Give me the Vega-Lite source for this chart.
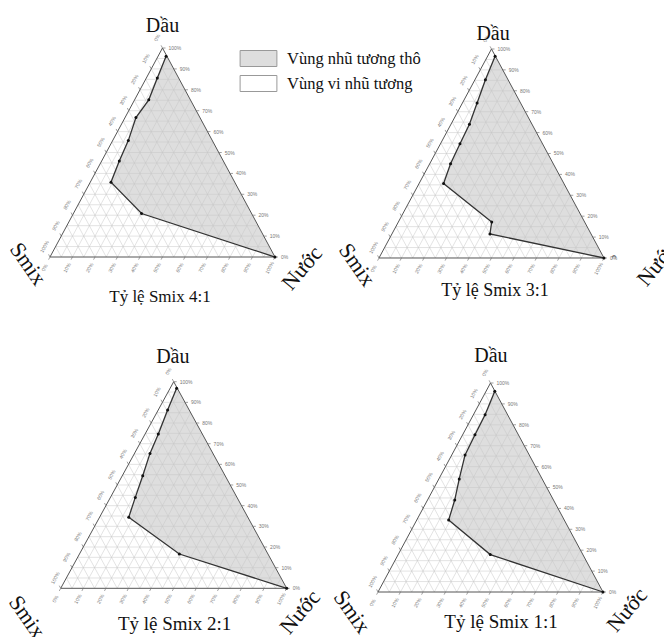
{
"$schema": "https://vega.github.io/schema/vega-lite/v6.json",
"padding": 0,
"background": "white",
"bounds": "flush",
"spacing": 0,
"columns": 2,
"config": {"view": {"stroke": null}, "axis": {"disable": true}, "concat": {"spacing": 0}},
"resolve": {"scale": {"x": "independent", "y": "independent"}},
"datasets": {
"p1": [
{"ngang": 51.6, "dau": 96.0, "bien": 52.0},
{"ngang": 47.7, "dau": 85.6, "bien": 57.2},
{"ngang": 43.9, "dau": 75.2, "bien": 62.4},
{"ngang": 38.2, "dau": 66.7, "bien": 66.7},
{"ngang": 34.8, "dau": 55.7, "bien": 72.2},
{"ngang": 30.8, "dau": 45.9, "bien": 77.1},
{"ngang": 27.1, "dau": 35.8, "bien": 82.1},
{"ngang": 40.7, "dau": 20.8, "bien": 89.6},
{"ngang": 100, "dau": 0, "bien": 100}
],
"p2": [
{"ngang": 51.6, "dau": 96.5, "bien": 51.8},
{"ngang": 47.3, "dau": 85.3, "bien": 57.4},
{"ngang": 43.6, "dau": 74.2, "bien": 62.9},
{"ngang": 40.2, "dau": 64.0, "bien": 68.0},
{"ngang": 36.0, "dau": 54.7, "bien": 72.7},
{"ngang": 31.8, "dau": 45.1, "bien": 77.5},
{"ngang": 28.7, "dau": 35.6, "bien": 82.2},
{"ngang": 50.1, "dau": 17.2, "bien": 91.4},
{"ngang": 49.3, "dau": 11.5, "bien": 94.3},
{"ngang": 100, "dau": 0, "bien": 100}
],
"p3": [
{"ngang": 51.3, "dau": 96.8, "bien": 51.6},
{"ngang": 47.3, "dau": 86.3, "bien": 56.9},
{"ngang": 43.2, "dau": 74.7, "bien": 62.7},
{"ngang": 39.5, "dau": 65.3, "bien": 67.4},
{"ngang": 36.3, "dau": 54.5, "bien": 72.8},
{"ngang": 33.0, "dau": 44.0, "bien": 78.0},
{"ngang": 30.1, "dau": 34.4, "bien": 82.8},
{"ngang": 52.5, "dau": 16.6, "bien": 91.7},
{"ngang": 100, "dau": 0, "bien": 100}
],
"p4": [
{"ngang": 51.9, "dau": 96.0, "bien": 52.0},
{"ngang": 47.6, "dau": 84.8, "bien": 57.6},
{"ngang": 43.1, "dau": 75.2, "bien": 62.4},
{"ngang": 38.7, "dau": 65.6, "bien": 67.2},
{"ngang": 36.1, "dau": 54.1, "bien": 73.0},
{"ngang": 34.1, "dau": 44.0, "bien": 78.0},
{"ngang": 31.4, "dau": 34.4, "bien": 82.8},
{"ngang": 49.9, "dau": 17.9, "bien": 91.1},
{"ngang": 100, "dau": 0, "bien": 100}
],
"vien": [
{"x": 0, "y": 0, "x2": 100, "y2": 0},
{"x": 100, "y": 0, "x2": 50, "y2": 100},
{"x": 50, "y": 100, "x2": 0, "y2": 0}
],
"luoi": [
{"x": 2.5, "y": 5, "x2": 97.5, "y2": 5},
{"x": 5, "y": 10, "x2": 95, "y2": 10},
{"x": 7.5, "y": 15, "x2": 92.5, "y2": 15},
{"x": 10, "y": 20, "x2": 90, "y2": 20},
{"x": 12.5, "y": 25, "x2": 87.5, "y2": 25},
{"x": 15, "y": 30, "x2": 85, "y2": 30},
{"x": 17.5, "y": 35, "x2": 82.5, "y2": 35},
{"x": 20, "y": 40, "x2": 80, "y2": 40},
{"x": 22.5, "y": 45, "x2": 77.5, "y2": 45},
{"x": 25, "y": 50, "x2": 75, "y2": 50},
{"x": 27.5, "y": 55, "x2": 72.5, "y2": 55},
{"x": 30, "y": 60, "x2": 70, "y2": 60},
{"x": 32.5, "y": 65, "x2": 67.5, "y2": 65},
{"x": 35, "y": 70, "x2": 65, "y2": 70},
{"x": 37.5, "y": 75, "x2": 62.5, "y2": 75},
{"x": 40, "y": 80, "x2": 60, "y2": 80},
{"x": 42.5, "y": 85, "x2": 57.5, "y2": 85},
{"x": 45, "y": 90, "x2": 55, "y2": 90},
{"x": 47.5, "y": 95, "x2": 52.5, "y2": 95},
{"x": 5, "y": 0, "x2": 52.5, "y2": 95},
{"x": 10, "y": 0, "x2": 55, "y2": 90},
{"x": 15, "y": 0, "x2": 57.5, "y2": 85},
{"x": 20, "y": 0, "x2": 60, "y2": 80},
{"x": 25, "y": 0, "x2": 62.5, "y2": 75},
{"x": 30, "y": 0, "x2": 65, "y2": 70},
{"x": 35, "y": 0, "x2": 67.5, "y2": 65},
{"x": 40, "y": 0, "x2": 70, "y2": 60},
{"x": 45, "y": 0, "x2": 72.5, "y2": 55},
{"x": 50, "y": 0, "x2": 75, "y2": 50},
{"x": 55, "y": 0, "x2": 77.5, "y2": 45},
{"x": 60, "y": 0, "x2": 80, "y2": 40},
{"x": 65, "y": 0, "x2": 82.5, "y2": 35},
{"x": 70, "y": 0, "x2": 85, "y2": 30},
{"x": 75, "y": 0, "x2": 87.5, "y2": 25},
{"x": 80, "y": 0, "x2": 90, "y2": 20},
{"x": 85, "y": 0, "x2": 92.5, "y2": 15},
{"x": 90, "y": 0, "x2": 95, "y2": 10},
{"x": 95, "y": 0, "x2": 97.5, "y2": 5},
{"x": 95, "y": 0, "x2": 47.5, "y2": 95},
{"x": 90, "y": 0, "x2": 45, "y2": 90},
{"x": 85, "y": 0, "x2": 42.5, "y2": 85},
{"x": 80, "y": 0, "x2": 40, "y2": 80},
{"x": 75, "y": 0, "x2": 37.5, "y2": 75},
{"x": 70, "y": 0, "x2": 35, "y2": 70},
{"x": 65, "y": 0, "x2": 32.5, "y2": 65},
{"x": 60, "y": 0, "x2": 30, "y2": 60},
{"x": 55, "y": 0, "x2": 27.5, "y2": 55},
{"x": 50, "y": 0, "x2": 25, "y2": 50},
{"x": 45, "y": 0, "x2": 22.5, "y2": 45},
{"x": 40, "y": 0, "x2": 20, "y2": 40},
{"x": 35, "y": 0, "x2": 17.5, "y2": 35},
{"x": 30, "y": 0, "x2": 15, "y2": 30},
{"x": 25, "y": 0, "x2": 12.5, "y2": 25},
{"x": 20, "y": 0, "x2": 10, "y2": 20},
{"x": 15, "y": 0, "x2": 7.5, "y2": 15},
{"x": 10, "y": 0, "x2": 5, "y2": 10},
{"x": 5, "y": 0, "x2": 2.5, "y2": 5}
],
"vach": [
{"canh": "phai", "nhan": "0%", "x": 100, "y": 0},
{"canh": "phai", "nhan": "10%", "x": 95, "y": 10},
{"canh": "phai", "nhan": "20%", "x": 90, "y": 20},
{"canh": "phai", "nhan": "30%", "x": 85, "y": 30},
{"canh": "phai", "nhan": "40%", "x": 80, "y": 40},
{"canh": "phai", "nhan": "50%", "x": 75, "y": 50},
{"canh": "phai", "nhan": "60%", "x": 70, "y": 60},
{"canh": "phai", "nhan": "70%", "x": 65, "y": 70},
{"canh": "phai", "nhan": "80%", "x": 60, "y": 80},
{"canh": "phai", "nhan": "90%", "x": 55, "y": 90},
{"canh": "phai", "nhan": "100%", "x": 50, "y": 100},
{"canh": "duoi", "nhan": "0%", "x": 0, "y": 0},
{"canh": "duoi", "nhan": "10%", "x": 10, "y": 0},
{"canh": "duoi", "nhan": "20%", "x": 20, "y": 0},
{"canh": "duoi", "nhan": "30%", "x": 30, "y": 0},
{"canh": "duoi", "nhan": "40%", "x": 40, "y": 0},
{"canh": "duoi", "nhan": "50%", "x": 50, "y": 0},
{"canh": "duoi", "nhan": "60%", "x": 60, "y": 0},
{"canh": "duoi", "nhan": "70%", "x": 70, "y": 0},
{"canh": "duoi", "nhan": "80%", "x": 80, "y": 0},
{"canh": "duoi", "nhan": "90%", "x": 90, "y": 0},
{"canh": "duoi", "nhan": "100%", "x": 100, "y": 0},
{"canh": "trai", "nhan": "0%", "x": 50, "y": 100},
{"canh": "trai", "nhan": "10%", "x": 45, "y": 90},
{"canh": "trai", "nhan": "20%", "x": 40, "y": 80},
{"canh": "trai", "nhan": "30%", "x": 35, "y": 70},
{"canh": "trai", "nhan": "40%", "x": 30, "y": 60},
{"canh": "trai", "nhan": "50%", "x": 25, "y": 50},
{"canh": "trai", "nhan": "60%", "x": 20, "y": 40},
{"canh": "trai", "nhan": "70%", "x": 15, "y": 30},
{"canh": "trai", "nhan": "80%", "x": 10, "y": 20},
{"canh": "trai", "nhan": "90%", "x": 5, "y": 10},
{"canh": "trai", "nhan": "100%", "x": 0, "y": 0}
]
},
"concat": [
{
"width": 320, "height": 320,
"layer": [
{"data": {"name": "p1"}, "mark": {"type": "area", "orient": "horizontal", "opacity": 1},
 "encoding": {
  "y": {"field": "dau", "type": "quantitative", "scale": {"domain": [-30.14, 122.97], "nice": false, "zero": false}},
  "x": {"field": "ngang", "type": "quantitative", "scale": {"domain": [-22.22, 120], "nice": false, "zero": false}},
  "x2": {"field": "bien"},
  "color": {"datum": "Vùng nhũ tương thô", "type": "nominal",
   "scale": {"domain": ["Vùng nhũ tương thô", "Vùng vi nhũ tương"], "range": ["#dedede", "#ffffff"]},
   "legend": {"orient": "none", "legendX": 250, "legendY": 50, "title": null, "padding": 0,
     "symbolType": "M-2.3,-1H2.3V1H-2.3Z", "symbolSize": 256, "symbolStrokeColor": "#999999", "symbolStrokeWidth": 1, "symbolOpacity": 1,
     "labelFont": "Liberation Serif", "labelFontSize": 16.5, "labelColor": "#111111", "labelOffset": 20, "rowPadding": 4,
     "labelLimit": 300}}
 }},
{"data": {"name": "luoi"}, "mark": {"type": "rule", "stroke": "#c6c6c6", "strokeWidth": 0.5},
 "encoding": {"x": {"field": "x", "type": "quantitative"}, "y": {"field": "y", "type": "quantitative"}, "x2": {"field": "x2"}, "y2": {"field": "y2"}}},
{"data": {"name": "vien"}, "mark": {"type": "rule", "stroke": "#555555", "strokeWidth": 1},
 "encoding": {"x": {"field": "x", "type": "quantitative"}, "y": {"field": "y", "type": "quantitative"}, "x2": {"field": "x2"}, "y2": {"field": "y2"}}},
{"data": {"name": "vach"}, "mark": {"type": "point", "filled": false, "size": 36, "strokeWidth": 0.7, "color": "#777777", "opacity": 1},
 "encoding": {"x": {"field": "x", "type": "quantitative"}, "y": {"field": "y", "type": "quantitative"},
  "shape": {"field": "canh", "type": "nominal", "scale": {"domain": ["phai", "duoi", "trai"], "range": ["M0,0H1", "M0,0L-0.47,0.88", "M0,0L-0.47,-0.88"]}, "legend": null}}},
{"data": {"name": "vach"}, "transform": [{"filter": "datum.canh === 'phai'"}],
 "mark": {"type": "text", "align": "left", "baseline": "middle", "dx": 6, "font": "Liberation Sans", "fontSize": 5, "color": "#777777"},
 "encoding": {"x": {"field": "x", "type": "quantitative"}, "y": {"field": "y", "type": "quantitative"}, "text": {"field": "nhan"}}},
{"data": {"name": "vach"}, "transform": [{"filter": "datum.canh === 'duoi'"}],
 "mark": {"type": "text", "align": "center", "baseline": "middle", "angle": 298, "dx": -12, "dy": 0, "font": "Liberation Sans", "fontSize": 5, "color": "#777777"},
 "encoding": {"x": {"field": "x", "type": "quantitative"}, "y": {"field": "y", "type": "quantitative"}, "text": {"field": "nhan"}}},
{"data": {"name": "vach"}, "transform": [{"filter": "datum.canh === 'trai'"}],
 "mark": {"type": "text", "align": "center", "baseline": "middle", "angle": 298, "dx": 6.6, "dy": -9.9, "font": "Liberation Sans", "fontSize": 5, "color": "#777777"},
 "encoding": {"x": {"field": "x", "type": "quantitative"}, "y": {"field": "y", "type": "quantitative"}, "text": {"field": "nhan"}}},
{"data": {"name": "p1"}, "mark": {"type": "line", "color": "#333333", "strokeWidth": 1.3},
 "encoding": {"x": {"field": "ngang", "type": "quantitative"}, "y": {"field": "dau", "type": "quantitative"}, "order": {"field": "dau"}}},
{"data": {"name": "p1"}, "mark": {"type": "point", "filled": true, "size": 9, "color": "#111111", "opacity": 1},
 "encoding": {"x": {"field": "ngang", "type": "quantitative"}, "y": {"field": "dau", "type": "quantitative"}}},
{"data": {"values": [{}]}, "mark": {"type": "text", "font": "Liberation Serif", "fontSize": 20, "align": "center", "baseline": "alphabetic", "color": "#111111"},
 "encoding": {"x": {"datum": 50, "type": "quantitative"}, "y": {"datum": 107.7, "type": "quantitative"}, "text": {"value": "Dầu"}}},
{"data": {"values": [{}]}, "mark": {"type": "text", "font": "Liberation Serif", "fontSize": 22, "align": "center", "baseline": "middle", "angle": 55, "color": "#111111"},
 "encoding": {"x": {"datum": -9.8, "type": "quantitative"}, "y": {"datum": -3.3, "type": "quantitative"}, "text": {"value": "Smix"}}},
{"data": {"values": [{}]}, "mark": {"type": "text", "font": "Liberation Serif", "fontSize": 22, "align": "center", "baseline": "middle", "angle": 310, "color": "#111111"},
 "encoding": {"x": {"datum": 112, "type": "quantitative"}, "y": {"datum": -5.3, "type": "quantitative"}, "text": {"value": "Nước"}}},
{"data": {"values": [{}]}, "mark": {"type": "text", "font": "Liberation Serif", "fontSize": 17, "align": "center", "baseline": "alphabetic", "color": "#111111"},
 "encoding": {"x": {"datum": 48.9, "type": "quantitative"}, "y": {"datum": -21.5, "type": "quantitative"}, "text": {"value": "Tỷ lệ Smix 4:1"}}}
]
},
{
"width": 344, "height": 320,
"layer": [
{"data": {"name": "p2"}, "mark": {"type": "area", "orient": "horizontal", "opacity": 1, "color": "#dedede"},
 "encoding": {
  "y": {"field": "dau", "type": "quantitative", "scale": {"domain": [-29.67, 123.44], "nice": false, "zero": false}},
  "x": {"field": "ngang", "type": "quantitative", "scale": {"domain": [-26.22, 126.67], "nice": false, "zero": false}},
  "x2": {"field": "bien"}
 }},
{"data": {"name": "luoi"}, "mark": {"type": "rule", "stroke": "#c6c6c6", "strokeWidth": 0.5},
 "encoding": {"x": {"field": "x", "type": "quantitative"}, "y": {"field": "y", "type": "quantitative"}, "x2": {"field": "x2"}, "y2": {"field": "y2"}}},
{"data": {"name": "vien"}, "mark": {"type": "rule", "stroke": "#555555", "strokeWidth": 1},
 "encoding": {"x": {"field": "x", "type": "quantitative"}, "y": {"field": "y", "type": "quantitative"}, "x2": {"field": "x2"}, "y2": {"field": "y2"}}},
{"data": {"name": "vach"}, "mark": {"type": "point", "filled": false, "size": 36, "strokeWidth": 0.7, "color": "#777777", "opacity": 1},
 "encoding": {"x": {"field": "x", "type": "quantitative"}, "y": {"field": "y", "type": "quantitative"},
  "shape": {"field": "canh", "type": "nominal", "scale": {"domain": ["phai", "duoi", "trai"], "range": ["M0,0H1", "M0,0L-0.47,0.88", "M0,0L-0.47,-0.88"]}, "legend": null}}},
{"data": {"name": "vach"}, "transform": [{"filter": "datum.canh === 'phai'"}],
 "mark": {"type": "text", "align": "left", "baseline": "middle", "dx": 6, "font": "Liberation Sans", "fontSize": 5, "color": "#777777"},
 "encoding": {"x": {"field": "x", "type": "quantitative"}, "y": {"field": "y", "type": "quantitative"}, "text": {"field": "nhan"}}},
{"data": {"name": "vach"}, "transform": [{"filter": "datum.canh === 'duoi'"}],
 "mark": {"type": "text", "align": "center", "baseline": "middle", "angle": 298, "dx": -12, "dy": 0, "font": "Liberation Sans", "fontSize": 5, "color": "#777777"},
 "encoding": {"x": {"field": "x", "type": "quantitative"}, "y": {"field": "y", "type": "quantitative"}, "text": {"field": "nhan"}}},
{"data": {"name": "vach"}, "transform": [{"filter": "datum.canh === 'trai'"}],
 "mark": {"type": "text", "align": "center", "baseline": "middle", "angle": 298, "dx": 6.6, "dy": -9.9, "font": "Liberation Sans", "fontSize": 5, "color": "#777777"},
 "encoding": {"x": {"field": "x", "type": "quantitative"}, "y": {"field": "y", "type": "quantitative"}, "text": {"field": "nhan"}}},
{"data": {"name": "p2"}, "mark": {"type": "line", "color": "#333333", "strokeWidth": 1.3},
 "encoding": {"x": {"field": "ngang", "type": "quantitative"}, "y": {"field": "dau", "type": "quantitative"}, "order": {"field": "dau"}}},
{"data": {"name": "p2"}, "mark": {"type": "point", "filled": true, "size": 9, "color": "#111111", "opacity": 1},
 "encoding": {"x": {"field": "ngang", "type": "quantitative"}, "y": {"field": "dau", "type": "quantitative"}}},
{"data": {"values": [{}]}, "mark": {"type": "text", "font": "Liberation Serif", "fontSize": 20, "align": "center", "baseline": "alphabetic", "color": "#111111"},
 "encoding": {"x": {"datum": 50.7, "type": "quantitative"}, "y": {"datum": 104.3, "type": "quantitative"}, "text": {"value": "Dầu"}}},
{"data": {"values": [{}]}, "mark": {"type": "text", "font": "Liberation Serif", "fontSize": 22, "align": "center", "baseline": "middle", "angle": 55, "color": "#111111"},
 "encoding": {"x": {"datum": -9.8, "type": "quantitative"}, "y": {"datum": -3.3, "type": "quantitative"}, "text": {"value": "Smix"}}},
{"data": {"values": [{}]}, "mark": {"type": "text", "font": "Liberation Serif", "fontSize": 22, "align": "center", "baseline": "middle", "angle": 310, "color": "#111111"},
 "encoding": {"x": {"datum": 123.6, "type": "quantitative"}, "y": {"datum": -2.9, "type": "quantitative"}, "text": {"value": "Nước"}}},
{"data": {"values": [{}]}, "mark": {"type": "text", "font": "Liberation Serif", "fontSize": 9, "align": "center", "baseline": "middle", "angle": 90, "color": "#444444"},
 "encoding": {"x": {"datum": 104.9, "type": "quantitative"}, "y": {"datum": 0.5, "type": "quantitative"}, "text": {"value": "c"}}},
{"data": {"values": [{}]}, "mark": {"type": "text", "font": "Liberation Serif", "fontSize": 18, "align": "center", "baseline": "alphabetic", "color": "#111111"},
 "encoding": {"x": {"datum": 51.6, "type": "quantitative"}, "y": {"datum": -18.2, "type": "quantitative"}, "text": {"value": "Tỷ lệ Smix 3:1"}}}
]
},
{
"width": 320, "height": 317,
"layer": [
{"data": {"name": "p3"}, "mark": {"type": "area", "orient": "horizontal", "opacity": 1, "color": "#dedede"},
 "encoding": {
  "y": {"field": "dau", "type": "quantitative", "scale": {"domain": [-23.57, 129.87], "nice": false, "zero": false}},
  "x": {"field": "ngang", "type": "quantitative", "scale": {"domain": [-26.86, 114.73], "nice": false, "zero": false}},
  "x2": {"field": "bien"}
 }},
{"data": {"name": "luoi"}, "mark": {"type": "rule", "stroke": "#c6c6c6", "strokeWidth": 0.5},
 "encoding": {"x": {"field": "x", "type": "quantitative"}, "y": {"field": "y", "type": "quantitative"}, "x2": {"field": "x2"}, "y2": {"field": "y2"}}},
{"data": {"name": "vien"}, "mark": {"type": "rule", "stroke": "#555555", "strokeWidth": 1},
 "encoding": {"x": {"field": "x", "type": "quantitative"}, "y": {"field": "y", "type": "quantitative"}, "x2": {"field": "x2"}, "y2": {"field": "y2"}}},
{"data": {"name": "vach"}, "mark": {"type": "point", "filled": false, "size": 36, "strokeWidth": 0.7, "color": "#777777", "opacity": 1},
 "encoding": {"x": {"field": "x", "type": "quantitative"}, "y": {"field": "y", "type": "quantitative"},
  "shape": {"field": "canh", "type": "nominal", "scale": {"domain": ["phai", "duoi", "trai"], "range": ["M0,0H1", "M0,0L-0.47,0.88", "M0,0L-0.47,-0.88"]}, "legend": null}}},
{"data": {"name": "vach"}, "transform": [{"filter": "datum.canh === 'phai'"}],
 "mark": {"type": "text", "align": "left", "baseline": "middle", "dx": 6, "font": "Liberation Sans", "fontSize": 5, "color": "#777777"},
 "encoding": {"x": {"field": "x", "type": "quantitative"}, "y": {"field": "y", "type": "quantitative"}, "text": {"field": "nhan"}}},
{"data": {"name": "vach"}, "transform": [{"filter": "datum.canh === 'duoi'"}],
 "mark": {"type": "text", "align": "center", "baseline": "middle", "angle": 298, "dx": -12, "dy": 0, "font": "Liberation Sans", "fontSize": 5, "color": "#777777"},
 "encoding": {"x": {"field": "x", "type": "quantitative"}, "y": {"field": "y", "type": "quantitative"}, "text": {"field": "nhan"}}},
{"data": {"name": "vach"}, "transform": [{"filter": "datum.canh === 'trai'"}],
 "mark": {"type": "text", "align": "center", "baseline": "middle", "angle": 298, "dx": 6.6, "dy": -9.9, "font": "Liberation Sans", "fontSize": 5, "color": "#777777"},
 "encoding": {"x": {"field": "x", "type": "quantitative"}, "y": {"field": "y", "type": "quantitative"}, "text": {"field": "nhan"}}},
{"data": {"name": "p3"}, "mark": {"type": "line", "color": "#333333", "strokeWidth": 1.3},
 "encoding": {"x": {"field": "ngang", "type": "quantitative"}, "y": {"field": "dau", "type": "quantitative"}, "order": {"field": "dau"}}},
{"data": {"name": "p3"}, "mark": {"type": "point", "filled": true, "size": 9, "color": "#111111", "opacity": 1},
 "encoding": {"x": {"field": "ngang", "type": "quantitative"}, "y": {"field": "dau", "type": "quantitative"}}},
{"data": {"values": [{}]}, "mark": {"type": "text", "font": "Liberation Serif", "fontSize": 20, "align": "center", "baseline": "alphabetic", "color": "#111111"},
 "encoding": {"x": {"datum": 49.6, "type": "quantitative"}, "y": {"datum": 109.2, "type": "quantitative"}, "text": {"value": "Dầu"}}},
{"data": {"values": [{}]}, "mark": {"type": "text", "font": "Liberation Serif", "fontSize": 22, "align": "center", "baseline": "middle", "angle": 55, "color": "#111111"},
 "encoding": {"x": {"datum": -14.9, "type": "quantitative"}, "y": {"datum": -13.9, "type": "quantitative"}, "text": {"value": "Smix"}}},
{"data": {"values": [{}]}, "mark": {"type": "text", "font": "Liberation Serif", "fontSize": 22, "align": "center", "baseline": "middle", "angle": 310, "color": "#111111"},
 "encoding": {"x": {"datum": 105.9, "type": "quantitative"}, "y": {"datum": -11.5, "type": "quantitative"}, "text": {"value": "Nước"}}},
{"data": {"values": [{}]}, "mark": {"type": "text", "font": "Liberation Serif", "fontSize": 19, "align": "center", "baseline": "alphabetic", "color": "#111111"},
 "encoding": {"x": {"datum": 50.4, "type": "quantitative"}, "y": {"datum": -20.3, "type": "quantitative"}, "text": {"value": "Tỷ lệ Smix 2:1"}}}
]
},
{
"width": 344, "height": 317,
"layer": [
{"data": {"name": "p4"}, "mark": {"type": "area", "orient": "horizontal", "opacity": 1, "color": "#dedede"},
 "encoding": {
  "y": {"field": "dau", "type": "quantitative", "scale": {"domain": [-21.53, 130.14], "nice": false, "zero": false}},
  "x": {"field": "ngang", "type": "quantitative", "scale": {"domain": [-25.78, 127.11], "nice": false, "zero": false}},
  "x2": {"field": "bien"}
 }},
{"data": {"name": "luoi"}, "mark": {"type": "rule", "stroke": "#c6c6c6", "strokeWidth": 0.5},
 "encoding": {"x": {"field": "x", "type": "quantitative"}, "y": {"field": "y", "type": "quantitative"}, "x2": {"field": "x2"}, "y2": {"field": "y2"}}},
{"data": {"name": "vien"}, "mark": {"type": "rule", "stroke": "#555555", "strokeWidth": 1},
 "encoding": {"x": {"field": "x", "type": "quantitative"}, "y": {"field": "y", "type": "quantitative"}, "x2": {"field": "x2"}, "y2": {"field": "y2"}}},
{"data": {"name": "vach"}, "mark": {"type": "point", "filled": false, "size": 36, "strokeWidth": 0.7, "color": "#777777", "opacity": 1},
 "encoding": {"x": {"field": "x", "type": "quantitative"}, "y": {"field": "y", "type": "quantitative"},
  "shape": {"field": "canh", "type": "nominal", "scale": {"domain": ["phai", "duoi", "trai"], "range": ["M0,0H1", "M0,0L-0.47,0.88", "M0,0L-0.47,-0.88"]}, "legend": null}}},
{"data": {"name": "vach"}, "transform": [{"filter": "datum.canh === 'phai'"}],
 "mark": {"type": "text", "align": "left", "baseline": "middle", "dx": 6, "font": "Liberation Sans", "fontSize": 5, "color": "#777777"},
 "encoding": {"x": {"field": "x", "type": "quantitative"}, "y": {"field": "y", "type": "quantitative"}, "text": {"field": "nhan"}}},
{"data": {"name": "vach"}, "transform": [{"filter": "datum.canh === 'duoi'"}],
 "mark": {"type": "text", "align": "center", "baseline": "middle", "angle": 298, "dx": -12, "dy": 0, "font": "Liberation Sans", "fontSize": 5, "color": "#777777"},
 "encoding": {"x": {"field": "x", "type": "quantitative"}, "y": {"field": "y", "type": "quantitative"}, "text": {"field": "nhan"}}},
{"data": {"name": "vach"}, "transform": [{"filter": "datum.canh === 'trai'"}],
 "mark": {"type": "text", "align": "center", "baseline": "middle", "angle": 298, "dx": 6.6, "dy": -9.9, "font": "Liberation Sans", "fontSize": 5, "color": "#777777"},
 "encoding": {"x": {"field": "x", "type": "quantitative"}, "y": {"field": "y", "type": "quantitative"}, "text": {"field": "nhan"}}},
{"data": {"name": "p4"}, "mark": {"type": "line", "color": "#333333", "strokeWidth": 1.3},
 "encoding": {"x": {"field": "ngang", "type": "quantitative"}, "y": {"field": "dau", "type": "quantitative"}, "order": {"field": "dau"}}},
{"data": {"name": "p4"}, "mark": {"type": "point", "filled": true, "size": 9, "color": "#111111", "opacity": 1},
 "encoding": {"x": {"field": "ngang", "type": "quantitative"}, "y": {"field": "dau", "type": "quantitative"}}},
{"data": {"values": [{}]}, "mark": {"type": "text", "font": "Liberation Serif", "fontSize": 20, "align": "center", "baseline": "alphabetic", "color": "#111111"},
 "encoding": {"x": {"datum": 50.2, "type": "quantitative"}, "y": {"datum": 110, "type": "quantitative"}, "text": {"value": "Dầu"}}},
{"data": {"values": [{}]}, "mark": {"type": "text", "font": "Liberation Serif", "fontSize": 22, "align": "center", "baseline": "middle", "angle": 55, "color": "#111111"},
 "encoding": {"x": {"datum": -11.6, "type": "quantitative"}, "y": {"datum": -9.6, "type": "quantitative"}, "text": {"value": "Smix"}}},
{"data": {"values": [{}]}, "mark": {"type": "text", "font": "Liberation Serif", "fontSize": 22, "align": "center", "baseline": "middle", "angle": 310, "color": "#111111"},
 "encoding": {"x": {"datum": 110.7, "type": "quantitative"}, "y": {"datum": -8.6, "type": "quantitative"}, "text": {"value": "Nước"}}},
{"data": {"values": [{}]}, "mark": {"type": "text", "font": "Liberation Serif", "fontSize": 19, "align": "center", "baseline": "alphabetic", "color": "#111111"},
 "encoding": {"x": {"datum": 54.7, "type": "quantitative"}, "y": {"datum": -17.2, "type": "quantitative"}, "text": {"value": "Tỷ lệ Smix 1:1"}}}
]
}
]
}
